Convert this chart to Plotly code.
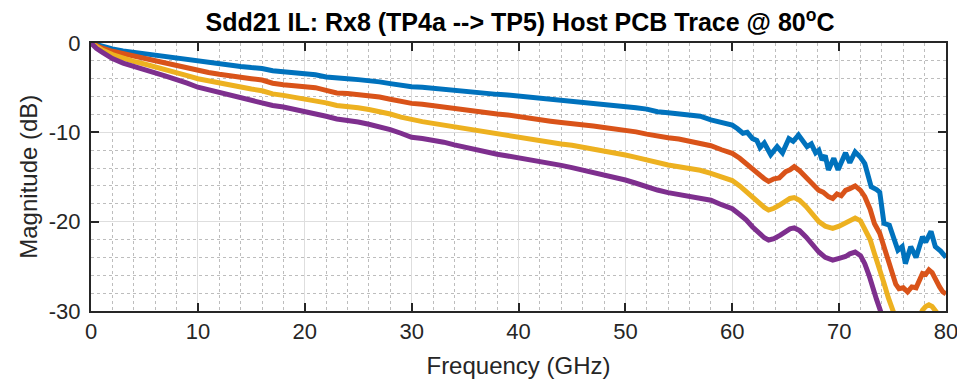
import plotly.graph_objects as go

# ---- data (GHz, dB) ----
freq_lo = [0, 0.5, 1, 2, 3, 4, 5, 6, 7, 8, 9, 10, 11, 12, 13, 14, 15, 16, 17, 18, 19, 20,
           21, 22, 23, 24, 25, 26, 27, 28, 29, 30, 31, 32, 33, 34, 35, 36, 37, 38, 39, 40,
           41, 42, 43, 44, 45, 46, 47, 48, 49, 50, 51, 52, 53, 54, 55, 56, 57, 58, 59]

blue_lo = [0, -0.2, -0.4, -0.67, -0.88, -1.05, -1.23, -1.4, -1.55, -1.7, -1.88, -2.05,
           -2.2, -2.35, -2.5, -2.62, -2.75, -2.85, -3.1, -3.2, -3.3, -3.43,
           -3.55, -3.8, -3.95, -4.0, -4.1, -4.2, -4.35, -4.55, -4.75, -4.9,
           -4.95, -5.08, -5.2, -5.3, -5.45, -5.55, -5.65, -5.75, -5.82, -5.93,
           -6.05, -6.2, -6.3, -6.35, -6.5, -6.65, -6.8, -6.85, -7.0, -7.13,
           -7.25, -7.4, -7.69, -7.8, -7.9, -8.0, -8.2, -8.6, -8.95]
orange_lo = [0, -0.3, -0.55, -0.93, -1.2, -1.5, -1.75, -2.0, -2.25, -2.5, -2.8, -3.1,
             -3.3, -3.5, -3.7, -3.85, -4.0, -4.15, -4.5, -4.67, -4.75, -4.85,
             -5.0, -5.3, -5.6, -5.65, -5.75, -5.9, -6.05, -6.3, -6.55, -6.76,
             -6.85, -7.02, -7.2, -7.35, -7.5, -7.65, -7.8, -7.95, -8.05, -8.25,
             -8.45, -8.6, -8.75, -8.9, -9.0, -9.15, -9.3, -9.45, -9.6, -9.74,
             -9.95, -10.2, -10.45, -10.6, -10.75, -11.0, -11.2, -11.5, -11.95]
yellow_lo = [0, -0.4, -0.75, -1.3, -1.7, -2.05, -2.35, -2.65, -2.95, -3.3, -3.65, -4.0,
             -4.25, -4.5, -4.75, -4.95, -5.15, -5.35, -5.7, -5.86, -6.05, -6.23,
             -6.4, -6.7, -7.0, -7.1, -7.25, -7.45, -7.65, -7.95, -8.3, -8.62,
             -8.8, -9.0, -9.2, -9.35, -9.55, -9.75, -9.95, -10.15, -10.3, -10.56,
             -10.75, -10.9, -11.1, -11.3, -11.45, -11.65, -11.85, -12.05, -12.3, -12.54,
             -12.8, -13.1, -13.45, -13.65, -13.85, -14.05, -14.25, -14.6, -15.0]
purple_lo = [0, -0.6, -1.0, -1.75, -2.25, -2.65, -3.0, -3.35, -3.7, -4.05, -4.5, -4.95,
             -5.25, -5.55, -5.85, -6.15, -6.4, -6.65, -7.0, -7.17, -7.4, -7.65,
             -7.9, -8.2, -8.5, -8.65, -8.85, -9.1, -9.35, -9.7, -10.1, -10.56,
             -10.7, -10.86, -11.1, -11.4, -11.68, -11.95, -12.2, -12.45, -12.65, -12.84,
             -13.05, -13.25, -13.45, -13.7, -13.95, -14.2, -14.45, -14.7, -15.0, -15.34,
             -15.7, -16.1, -16.46, -16.75, -16.95, -17.15, -17.35, -17.6, -18.1]

blue_hi_f = [60.0, 60.5, 61.0, 61.4, 61.9, 62.3, 62.6, 63.0, 63.6, 64.2, 64.7, 65.3, 65.7,
             66.2, 66.6, 67.0, 67.4, 67.8, 68.1, 68.4, 68.7, 69.0, 69.5, 69.9, 70.6, 71.0,
             71.5, 72.0, 72.4, 72.8, 73.0, 73.5, 73.8, 74.2, 74.7, 75.1, 75.5, 75.9, 76.2,
             76.7, 77.2, 77.8, 78.1, 78.6, 79.0, 79.5, 80.0]
blue_hi = [-9.2, -9.6, -10.1, -10.0, -10.7, -10.9, -11.7, -11.2, -12.5, -11.6, -12.3, -10.7, -11.0,
           -10.3, -10.9, -11.6, -11.3, -12.3, -12.0, -13.1, -12.6, -14.2, -12.9, -14.2, -12.3, -13.4,
           -12.2, -12.8, -13.5, -15.0, -16.1, -16.4, -16.7, -20.2, -20.4, -21.8, -23.2, -22.8, -24.7,
           -22.8, -24.0, -21.7, -22.3, -21.1, -22.8, -23.3, -24.0]

orange_hi_f = [60.0, 60.7, 61.3, 61.9, 62.5, 63.0, 63.4, 63.9, 64.4, 65.0, 65.4, 65.8, 66.3,
               66.9, 67.5, 68.1, 68.5, 69.0, 69.4, 69.8, 70.2, 70.6, 71.0, 71.5, 72.0, 72.4,
               72.9, 73.3, 73.8, 74.2, 74.6, 75.0, 75.3, 75.6, 76.0, 76.4, 76.8, 77.2, 77.5,
               77.8, 78.1, 78.4, 78.7, 79.0, 79.4, 79.7, 80.0]
orange_hi = [-12.35, -12.9, -13.5, -14.1, -14.8, -15.2, -15.5, -15.2, -15.1, -14.4, -14.2, -13.85, -14.3,
             -15.1, -15.8, -16.5, -16.7, -17.2, -17.4, -16.9, -17.1, -16.5, -16.3, -16.0, -16.5, -17.2,
             -18.6, -20.2, -21.3, -22.8, -24.3, -26.2, -27.0, -27.5, -27.4, -27.85, -27.3, -27.4, -26.6,
             -25.8, -25.9, -25.4, -25.7, -26.5, -27.3, -27.85, -28.1]

yellow_hi_f = [60.0, 60.7, 61.3, 61.9, 62.5, 63.0, 63.4, 63.9, 64.5, 65.0, 65.4, 65.8, 66.3,
               66.9, 67.5, 68.1, 68.7, 69.4, 70.0, 70.6, 71.0, 71.5, 72.0, 72.4, 72.9, 73.3,
               73.8, 74.2, 74.6, 75.0, 75.5, 76.0, 76.5, 77.0, 77.5, 77.8, 78.1, 78.4, 78.7,
               79.0, 79.3, 80.0]
yellow_hi = [-15.4, -16.0, -16.65, -17.3, -17.95, -18.4, -18.7, -18.5, -18.1, -17.7, -17.4, -17.3, -17.6,
             -18.3, -19.2, -20.0, -20.5, -20.75, -20.5, -20.2, -19.9, -19.6, -19.9, -20.75, -22.0, -23.55,
             -25.2, -26.9, -28.5, -30.1, -31.5, -32.5, -33.0, -32.0, -30.5, -29.9, -29.5, -29.3, -29.5,
             -30.0, -30.6, -31.5]

purple_hi_f = [60.0, 60.7, 61.3, 61.9, 62.5, 63.0, 63.4, 63.9, 64.5, 65.0, 65.4, 65.8, 66.3,
               66.9, 67.5, 68.1, 68.7, 69.4, 70.0, 70.6, 71.0, 71.5, 72.0, 72.4, 72.8, 73.1,
               73.5, 73.9, 74.3, 74.8]
purple_hi = [-18.55, -19.2, -19.8, -20.6, -21.3, -21.8, -22.05, -21.9, -21.5, -21.1, -20.8, -20.7, -21.0,
             -21.7, -22.6, -23.4, -24.0, -24.3, -24.1, -23.9, -23.6, -23.4, -23.8, -24.7, -26.0, -27.3,
             -28.7, -30.1, -31.5, -33.0]

x_ticks = [0, 10, 20, 30, 40, 50, 60, 70, 80]
y_ticks = [0, -10, -20, -30]

series = [
    (blue_lo, blue_hi_f, blue_hi, "#0072BD"),
    (orange_lo, orange_hi_f, orange_hi, "#D95319"),
    (yellow_lo, yellow_hi_f, yellow_hi, "#EDB120"),
    (purple_lo, purple_hi_f, purple_hi, "#7E2F8E"),
]

fig = go.Figure()
for lo, hf, hv, col in series:
    fig.add_trace(go.Scatter(
        x=freq_lo + hf, y=lo + hv, mode="lines",
        line=dict(color=col, width=5), showlegend=False, hoverinfo="skip"))

font_family = "Liberation Sans, Arial, sans-serif"
axis_col = "#262626"

common = dict(
    showline=True, linecolor=axis_col, linewidth=2, mirror="ticks",
    ticks="inside", ticklen=8, tickwidth=2, tickcolor=axis_col,
    showgrid=True, gridcolor="#dedede", gridwidth=1,
    zeroline=False, automargin=False,
    tickfont=dict(family=font_family, size=22, color=axis_col),
)

fig.update_xaxes(
    range=[0, 80], tickvals=x_ticks, ticktext=[str(v) for v in x_ticks],
    title=dict(text="Frequency (GHz)", font=dict(family=font_family, size=24, color=axis_col), standoff=14),
    minor=dict(dtick=2, showgrid=True, gridcolor="#bdbdbd", griddash="dot", gridwidth=1),
    **common)
fig.update_yaxes(
    range=[-30, 0], tickvals=y_ticks, ticktext=[str(v) for v in y_ticks],
    ticklabelstandoff=4,
    minor=dict(dtick=2, showgrid=True, gridcolor="#bdbdbd", griddash="dot", gridwidth=1),
    **common)

fig.add_annotation(
    text="Magnitude (dB)", textangle=-90, showarrow=False,
    xref="paper", yref="paper", x=-0.074, y=0.5, xanchor="center", yanchor="middle",
    font=dict(family=font_family, size=24, color=axis_col))

# page body adds an 8px margin; the figure is sized so the plot lands on the reference pixels
fig.update_layout(
    width=957, height=377,
    margin=dict(l=83, r=19, t=35, b=74),
    plot_bgcolor="white", paper_bgcolor="white",
    title=dict(text="<b>Sdd21 IL: Rx8 (TP4a --> TP5) Host PCB Trace @ 80<sup>o</sup>C</b>",
               x=0.535, xanchor="center", y=0.962, yanchor="middle", yref="container",
               font=dict(family=font_family, size=25, color="black")),
)

fig.write_html("out.html")
